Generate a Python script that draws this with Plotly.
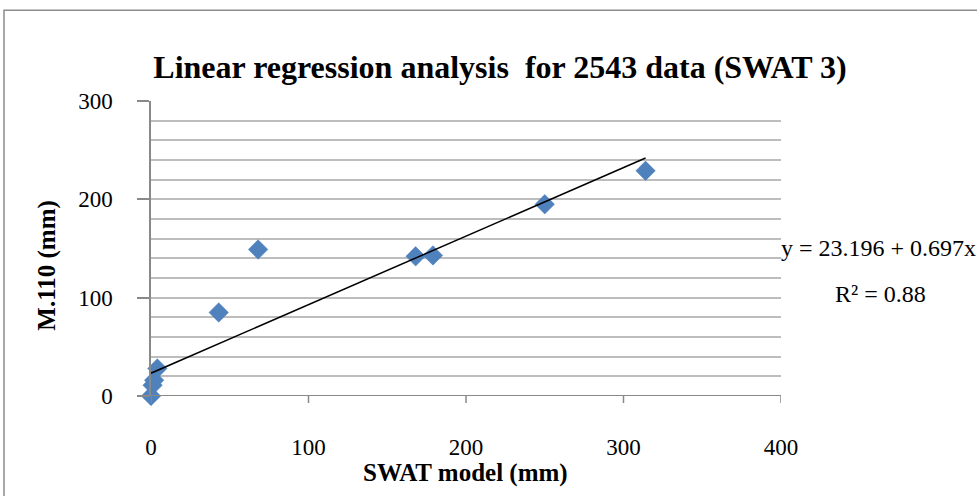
import plotly.graph_objects as go
import numpy as np

# Data
swat_model = [0, 1, 2, 4, 43, 68, 168, 179, 250, 314]
m110 = [0, 11, 16, 28, 85, 149, 142, 143, 195, 229]
intercept = 23.196
slope = 0.697
r2 = 0.88

x_ticks = [0, 100, 200, 300, 400]
y_ticks = [0, 100, 200, 300]

W, H = 977, 496
L, R = 151, 781
T, B = 101, 396.5

def px(xp):
    return (xp - L) / (R - L)

def py(yp):
    return (B - yp) / (B - T)

line_x = np.array([0, max(swat_model)])
line_y = intercept + slope * line_x

fig = go.Figure()
fig.add_trace(go.Scatter(
    x=swat_model, y=m110, mode="markers",
    marker=dict(symbol="diamond", size=15, color="#4F81BD",
                line=dict(color="#4A7EBB", width=0.5)),
    showlegend=False, cliponaxis=False,
))
fig.add_trace(go.Scatter(
    x=line_x, y=line_y, mode="lines",
    line=dict(color="black", width=1.5),
    showlegend=False,
))

serif = "Liberation Serif"
fig.update_layout(
    width=W, height=H,
    margin=dict(l=L, r=W - R, t=T, b=H - B, autoexpand=False),
    plot_bgcolor="white", paper_bgcolor="white",
    font=dict(family=serif, color="black", size=23),
    title=dict(text="<b>Linear regression analysis  for 2543 data (SWAT 3)</b>",
               x=(155 + 845) / 2 / W, xanchor="center",
               y=1 - 67 / H, yanchor="middle",
               font=dict(family=serif, size=32, color="black")),
    xaxis=dict(range=[0, 400], tickvals=x_ticks, ticktext=[str(v) for v in x_ticks],
               showgrid=False, zeroline=False, showline=False,
               ticks="", ticklabelstandoff=35,
               tickfont=dict(size=23, family=serif)),
    yaxis=dict(range=[0, 300], tickvals=y_ticks, ticktext=[str(v) for v in y_ticks],
               showgrid=True, gridcolor="#BDBDBD", gridwidth=1.5,
               minor=dict(dtick=20, showgrid=True, gridcolor="#BDBDBD", gridwidth=1.5),
               zeroline=False, showline=True, linecolor="#898989", linewidth=1.5,
               ticks="outside", ticklen=12, tickcolor="#898989", tickwidth=1.5,
               ticklabelstandoff=20,
               tickfont=dict(size=23, family=serif)),
)

shapes = []
# x axis line at y=0
shapes.append(dict(type="line", xref="paper", yref="y", x0=0, x1=1, y0=0, y1=0,
                   line=dict(color="#898989", width=2)))
# x ticks below axis
for v in x_ticks:
    shapes.append(dict(type="line", xref="x", yref="paper", x0=v, x1=v,
                       y0=0, y1=py(B + 7), line=dict(color="#898989", width=1.5)))
# outer chart border
shapes.append(dict(type="rect", xref="paper", yref="paper",
                   x0=px(4), x1=px(990), y0=py(10), y1=py(520),
                   line=dict(color="#8C8C8C", width=1.5), fillcolor="rgba(0,0,0,0)",
                   layer="below"))
fig.update_layout(shapes=shapes)

# axis titles
fig.add_annotation(text="<b>SWAT model (mm)</b>", xref="paper", yref="paper",
                   x=px(465), y=py(474), xanchor="center", yanchor="middle",
                   showarrow=False, font=dict(size=25, family=serif))
fig.add_annotation(text="<b>M.110 (mm)</b>", xref="paper", yref="paper",
                   x=px(47), y=py(266), xanchor="center", yanchor="middle",
                   textangle=-90, showarrow=False, font=dict(size=25, family=serif))

fig.add_annotation(text=f"y = {intercept} + {slope}x", xref="paper", yref="paper",
                   x=px(779), y=py(248), xanchor="left", yanchor="middle",
                   showarrow=False, font=dict(size=24, family=serif))
fig.add_annotation(text=f"R² = {r2}", xref="paper", yref="paper",
                   x=px(880), y=py(294), xanchor="center", yanchor="middle",
                   showarrow=False, font=dict(size=24, family=serif))

fig.write_html("out.html", config={"displayModeBar": False},
               post_script="document.body.style.margin='0';")
